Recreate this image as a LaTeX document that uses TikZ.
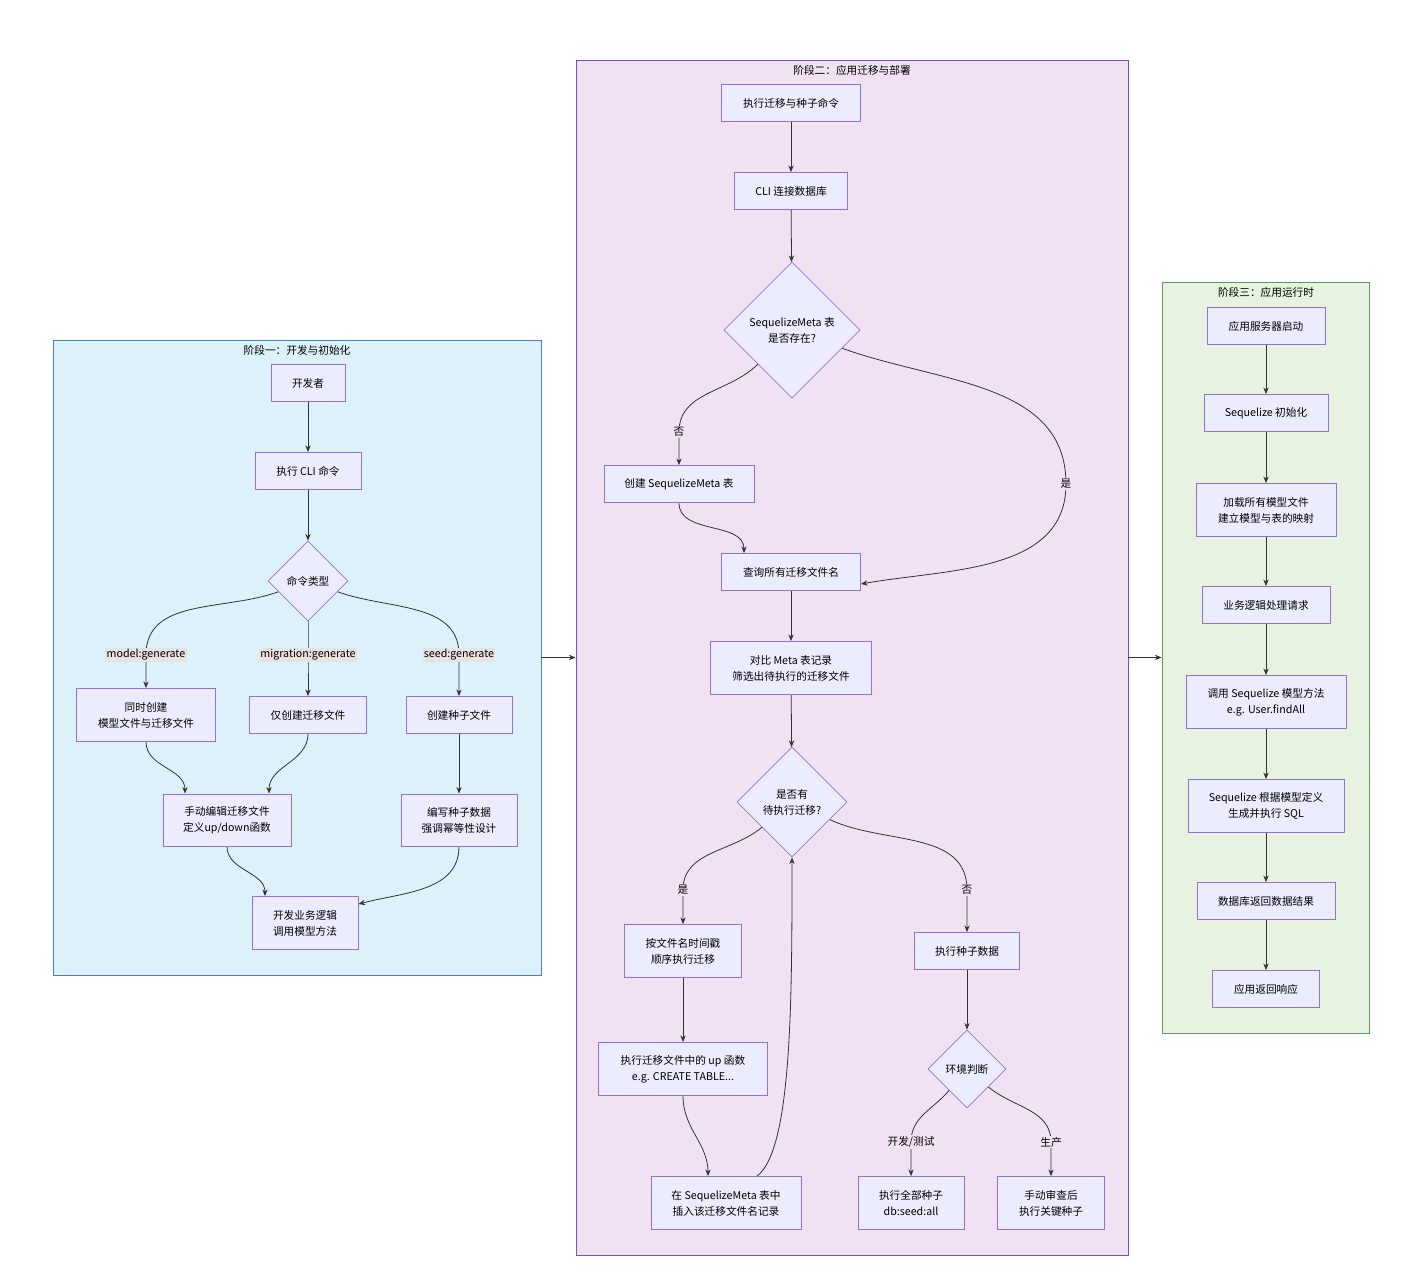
\documentclass[tikz,border=0pt]{standalone}
\usepackage{fontspec}
\setmainfont{Noto Sans CJK SC}
\usetikzlibrary{shapes.geometric,arrows.meta}
\definecolor{nfill}{HTML}{ECECFF}
\definecolor{nstroke}{HTML}{9370DB}
\definecolor{b1f}{HTML}{DDF1FA}\definecolor{b1s}{HTML}{4A7FC0}
\definecolor{b2f}{HTML}{F0E2F3}\definecolor{b2s}{HTML}{7B52B8}
\definecolor{b3f}{HTML}{E7F2E0}\definecolor{b3s}{HTML}{5E9A5A}
\definecolor{lbl}{HTML}{E8E2E0}
\pgfdeclarelayer{bg}\pgfdeclarelayer{edge}\pgfsetlayers{bg,edge,main}
\tikzset{
 nd/.style={draw=nstroke,fill=nfill,line width=0.6pt,align=center,inner sep=0pt,font=\fontsize{8}{12}\selectfont},
 dm/.style={nd,diamond,aspect=1},
 grp/.style={draw=#1s,fill=#1f,line width=0.6pt},
 ttl/.style={font=\fontsize{8}{10}\selectfont,anchor=north},
 arr/.style={draw=black!80,line width=0.6pt,-{Stealth[length=5pt,width=4pt]}},
 el/.style={font=\fontsize{8}{10}\selectfont,inner sep=1pt,fill=#1},
}
\newcommand\B[6]{\node[nd,minimum width={#4*0.75pt},minimum height={#5*0.75pt}] (#1) at (#2,#3) {#6};}
\newcommand\D[5]{\node[dm,minimum width={#4*1.5pt},minimum height={#4*1.5pt}] (#1) at (#2,#3) {#5};}
\begin{document}
\begin{tikzpicture}[x=0.75pt,y=-0.75pt]
\useasboundingbox (0,0) rectangle (1425,1280);
\begin{pgfonlayer}{bg}
\node[grp=b1,minimum width={488*0.75pt},minimum height={635*0.75pt},inner sep=0pt] (p1) at (297,657.5) {};
\node[grp=b2,minimum width={552*0.75pt},minimum height={1195*0.75pt},inner sep=0pt] (p2) at (852,657.5) {};
\node[grp=b3,minimum width={207*0.75pt},minimum height={751*0.75pt},inner sep=0pt] (p3) at (1265.5,657.5) {};
\end{pgfonlayer}
\node[ttl] (t1) at (297,341) {阶段一：开发与初始化};
\node[ttl] (t2) at (852,61) {阶段二：应用迁移与部署};
\node[ttl] (t3) at (1266,283) {阶段三：应用运行时};
% phase 1
\B{dev}{308}{383}{74}{37}{开发者}
\B{cli}{308}{471}{106}{37}{执行 CLI 命令}
\D{d1}{308}{581}{40}{命令类型}
\B{a}{146}{715}{139}{53}{同时创建\\模型文件与迁移文件}
\B{b}{308}{715}{117}{37}{仅创建迁移文件}
\B{c}{459}{715}{106}{37}{创建种子文件}
\B{e}{227}{820}{128}{52}{手动编辑迁移文件\\定义up/down函数}
\B{f}{459}{820}{116}{52}{编写种子数据\\强调幂等性设计}
\B{g}{305}{923}{106}{53}{开发业务逻辑\\调用模型方法}
\node[el=lbl] (la) at (146,655) {model:generate};
\node[el=lbl] (lb) at (308,655) {migration:generate};
\node[el=lbl] (lc) at (459,655) {seed:generate};
% phase 2
\B{m1}{791}{103}{139}{37}{执行迁移与种子命令}
\B{m2}{791}{191}{113}{37}{CLI 连接数据库}
\D{m3}{792}{330}{68}{SequelizeMeta 表\\是否存在?}
\B{m4}{679}{484}{150}{37}{创建 SequelizeMeta 表}
\B{m5}{791}{572}{139}{37}{查询所有迁移文件名}
\B{m6}{791}{668}{161}{53}{对比 Meta 表记录\\筛选出待执行的迁移文件}
\D{m7}{792}{802}{55}{是否有\\待执行迁移?}
\B{m8}{683}{951}{117}{53}{按文件名时间戳\\顺序执行迁移}
\B{m9}{683}{1069}{169}{53}{执行迁移文件中的 up 函数\\e.g. CREATE TABLE...}
\B{m10}{726}{1203}{150}{53}{在 SequelizeMeta 表中\\插入该迁移文件名记录}
\B{m11}{967}{951}{105}{37}{执行种子数据}
\D{m12}{967}{1069}{39}{环境判断}
\B{m13}{911}{1203}{106}{53}{执行全部种子\\db:seed:all}
\B{m14}{1051}{1203}{107}{53}{手动审查后\\执行关键种子}
\node[el=b2f] (l1) at (679,432) {否};
\node[el=b2f] (l2) at (1066,484) {是};
\node[el=b2f] (l3) at (683,890) {是};
\node[el=b2f] (l4) at (967,890) {否};
\node[el=b2f] (l5) at (911,1142) {开发/测试};
\node[el=b2f] (l6) at (1051,1142) {生产};
% phase 3
\B{r1}{1266}{326}{118}{37}{应用服务器启动}
\B{r2}{1266}{413}{124}{37}{Sequelize 初始化}
\B{r3}{1266}{510}{140}{53}{加载所有模型文件\\建立模型与表的映射}
\B{r4}{1266}{605}{128}{37}{业务逻辑处理请求}
\B{r5}{1266}{702}{160}{53}{调用 Sequelize 模型方法\\e.g. User.findAll}
\B{r6}{1266}{806}{156}{53}{Sequelize 根据模型定义\\生成并执行 SQL}
\B{r7}{1266}{901}{138}{37}{数据库返回数据结果}
\B{r8}{1266}{989}{107}{37}{应用返回响应}
\begin{pgfonlayer}{edge}
\draw[arr] (dev) -- (cli);
\draw[arr] (cli) -- (d1);
\draw[arr] (d1) to[out=200,in=90] (la.center) -- (a);
\draw[arr] (d1) -- (lb.center) -- (b);
\draw[arr] (d1) to[out=-20,in=90] (lc.center) -- (c);
\draw[arr] (a) to[out=-90,in=90] ([xshift=-42*0.75pt]e.north);
\draw[arr] (b) to[out=-90,in=90] ([xshift=42*0.75pt]e.north);
\draw[arr] (c) -- (f);
\draw[arr] (e) to[out=-90,in=90] ([xshift=-40*0.75pt]g.north);
\draw[arr] (f) to[out=-90,in=15] ([yshift=-8*0.75pt]g.north east);
\draw[arr] (p1.east) -- (p2.west);
\draw[arr] (p2.east) -- (p3.west);
\draw[arr] (m1) -- (m2);
\draw[arr] (m2) -- (m3);
\draw[arr] (m3) to[out=225,in=90] (l1.center) -- (m4);
\draw[arr] (m3) to[out=-20,in=90] (l2.center) to[out=-90,in=10] ([yshift=-12*0.75pt]m5.east);
\draw[arr] (m4) to[out=-90,in=90] ([xshift=-47*0.75pt]m5.north);
\draw[arr] (m5) -- (m6);
\draw[arr] (m6) -- (m7);
\draw[arr] (m7) to[out=220,in=90] (l3.center) -- (m8);
\draw[arr] (m7) to[out=-25,in=90] (l4.center) -- (m11);
\draw[arr] (m8) -- (m9);
\draw[arr] (m9) to[out=-90,in=90] ([xshift=-18*0.75pt]m10.north);
\draw[arr] ([xshift=31*0.75pt]m10.north) .. controls (792,1150) and (792,1000) .. (m7.south);
\draw[arr] (m11) -- (m12);
\draw[arr] (m12) to[out=230,in=90] (l5.center) -- (m13);
\draw[arr] (m12) to[out=-40,in=90] (l6.center) -- (m14);
\draw[arr] (r1) -- (r2);
\draw[arr] (r2) -- (r3);
\draw[arr] (r3) -- (r4);
\draw[arr] (r4) -- (r5);
\draw[arr] (r5) -- (r6);
\draw[arr] (r6) -- (r7);
\draw[arr] (r7) -- (r8);
\end{pgfonlayer}
\end{tikzpicture}
\end{document}
